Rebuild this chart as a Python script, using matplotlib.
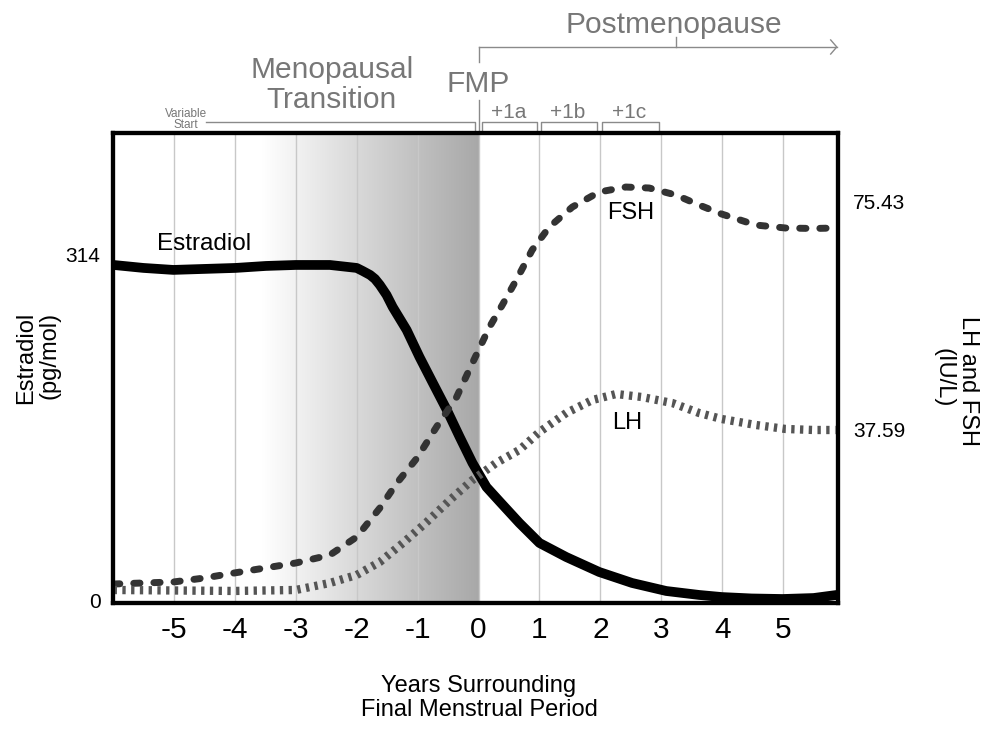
import matplotlib.pyplot as plt
import matplotlib.transforms as mtransforms
from matplotlib.colors import LinearSegmentedColormap
import numpy as np

plt.rcParams['font.family'] = ['Liberation Sans', 'DejaVu Sans']

# years relative to the final menstrual period
years_e = [-5.99, -5.50, -5.01, -4.50, -3.99, -3.49, -3.00, -2.44, -2.00, -1.90,
           -1.78, -1.70, -1.62, -1.51, -1.41, -1.18, -0.97, -0.75, -0.52, -0.31,
           -0.10, 0.13, 0.34, 0.67, 1.00, 1.44, 1.98, 2.52, 3.08, 3.62,
           3.99, 4.48, 4.99, 5.50, 5.88]
estradiol = [304.9, 302.2, 300.4, 301.3, 302.2, 304.0, 304.9, 304.9, 302.2, 299.4,
             295.8, 292.2, 286.7, 277.6, 266.7, 245.7, 221.2, 197.5, 172.9, 148.4,
             124.7, 102.8, 90.0, 70.1, 51.9, 39.1, 25.5, 15.5, 8.2, 4.6,
             2.7, 1.4, 0.9, 1.8, 4.6]

years_f = [-5.99, -5.50, -5.01, -4.50, -4.01, -3.50, -3.00, -2.44, -2.00, -1.62,
           -1.34, -1.01, -0.69, -0.36, -0.10, 0.18, 0.39, 0.62, 0.88, 1.16,
           1.54, 1.98, 2.42, 2.80, 3.24, 3.62, 3.99, 4.55, 5.04, 5.50, 5.86]
fsh = [12.14, 12.31, 12.47, 13.13, 13.96, 14.79, 15.61, 16.93, 19.91, 24.70,
       28.83, 32.96, 38.09, 43.04, 48.66, 54.61, 58.25, 62.38, 67.33, 71.13,
       74.44, 76.92, 77.74, 77.58, 76.42, 74.77, 73.28, 71.46, 70.97, 70.89, 70.97]

years_l = [-5.99, -5.01, -4.01, -3.00, -2.44, -2.00, -1.62, -1.24, -0.85, -0.47,
           -0.10, 0.29, 0.67, 1.00, 1.44, 1.87, 2.26, 2.68, 3.18, 3.62,
           3.99, 4.55, 5.04, 5.50, 5.86]
lh = [11.15, 11.07, 10.99, 11.15, 12.31, 13.63, 15.78, 18.92, 22.39, 26.02,
      29.33, 32.14, 34.29, 37.26, 40.40, 42.55, 43.54, 43.04, 42.05, 40.40,
      39.41, 38.42, 37.76, 37.59, 37.59]

xticks = [-5, -4, -3, -2, -1, 0, 1, 2, 3, 4, 5]
left_ticks = [0, 314]
right_ticks = [37.59, 75.43]
stages = ['+1a', '+1b', '+1c']

gray = '#777777'
line_gray = '#8a8a8a'

fig = plt.figure(figsize=(9.86, 7.33), dpi=100)
ax = fig.add_axes([113/986, 130/733, 725/986, 470/733])
ylo, yhi = -2.73, 425.0

# menopausal transition shading
grad = np.linspace(0, 1, 256).reshape(1, -1)
cmap = LinearSegmentedColormap.from_list('shade', ['#ffffff', '#a8a8a8'])
ax.imshow(grad, cmap=cmap, extent=(-3.55, 0, ylo, yhi), aspect='auto', zorder=0)

ax.set_xlim(-6, 5.9)
ax.set_ylim(ylo, yhi)
ax.set_xticks(xticks)
ax.set_xticklabels([str(t) for t in xticks])
ax.set_yticks(left_ticks)
ax.set_axisbelow(True)
ax.grid(axis='x', color='#c8c8c8', lw=1)
ax.tick_params(axis='x', length=0, labelsize=21.5, pad=9)
ax.tick_params(axis='y', length=0, labelsize=15, pad=9)
for s in ax.spines.values():
    s.set_linewidth(3)

ax.plot(years_e, estradiol, color='black', lw=7, solid_capstyle='butt',
        solid_joinstyle='round', zorder=3)
ax.text(-4.5, 318.6, 'Estradiol', fontsize=17.5, ha='center', va='baseline')

ax2 = ax.twinx()
ax2.set_ylim(9.0, 86.67)
ax2.set_yticks(right_ticks)
ax2.set_yticklabels(['37.59', '75.43'])
ax2.tick_params(axis='y', length=0, labelsize=15, pad=11)
for s in ax2.spines.values():
    s.set_linewidth(3)
ax2.plot(years_f, fsh, color='#333333', lw=5, dashes=(0.9, 2.0),
         dash_capstyle='round')
ax2.plot(years_l, lh, color='#555555', lw=6, dashes=(0.4, 0.65),
         dash_capstyle='butt')
ax2.text(2.5, 72.46, 'FSH', fontsize=17, ha='center', va='baseline')
ax2.text(2.44, 37.76, 'LH', fontsize=17, ha='center', va='baseline')

# brackets and stage labels above the plot
tr = mtransforms.blended_transform_factory(ax.transData, ax.transAxes)
kw = dict(color=line_gray, lw=1, transform=tr, clip_on=False)
ax.plot([0, 5.88], [1.183, 1.183], **kw)
ax.plot([5.78, 5.88, 5.78], [1.198, 1.183, 1.168], **kw)
ax.plot([3.24, 3.24], [1.183, 1.204], **kw)
ax.plot([0, 0], [1.151, 1.183], **kw)
ax.plot([0, 0], [1.0, 1.070], **kw)
ax.plot([-4.47, -0.065, -0.065], [1.0234, 1.0234, 1.0], **kw)
for x0, x1 in [(0.05, 0.966), (1.03, 1.95), (2.03, 2.96)]:
    ax.plot([x0, x0, x1, x1], [1.0, 1.0234, 1.0234, 1.0], **kw)

tkw = dict(color=gray, ha='center', va='baseline', transform=tr)
ax.text(3.21, 1.2128, 'Postmenopause', fontsize=21.5, **tkw)
ax.text(-2.41, 1.117, 'Menopausal', fontsize=21.5, **tkw)
ax.text(-2.41, 1.053, 'Transition', fontsize=21.5, **tkw)
ax.text(0, 1.087, 'FMP', fontsize=21.5, **tkw)
for x, s in zip([0.5, 1.47, 2.47], stages):
    ax.text(x, 1.0319, s, fontsize=15, **tkw)
ax.text(-4.8, 1.034, 'Variable', fontsize=8.5, **tkw)
ax.text(-4.8, 1.0106, 'Start', fontsize=8.5, **tkw)

# axis titles
fig.text(479/986, (733-692)/733, 'Years Surrounding', fontsize=17,
         ha='center', va='baseline')
fig.text(479/986, (733-716)/733, 'Final Menstrual Period', fontsize=17,
         ha='center', va='baseline')
fig.text(32/986, 1-358/733, 'Estradiol', fontsize=17, rotation=90,
         rotation_mode='anchor', ha='center', va='baseline')
fig.text(55/986, 1-355/733, '(pg/mol)', fontsize=17, rotation=90,
         rotation_mode='anchor', ha='center', va='baseline')
fig.text(962/986, 1-381/733, 'LH and FSH', fontsize=17, rotation=270,
         rotation_mode='anchor', ha='center', va='baseline')
fig.text(938/986, 1-378/733, '(IU/L)', fontsize=17, rotation=270,
         rotation_mode='anchor', ha='center', va='baseline')

fig.savefig('out.png', dpi=100)
